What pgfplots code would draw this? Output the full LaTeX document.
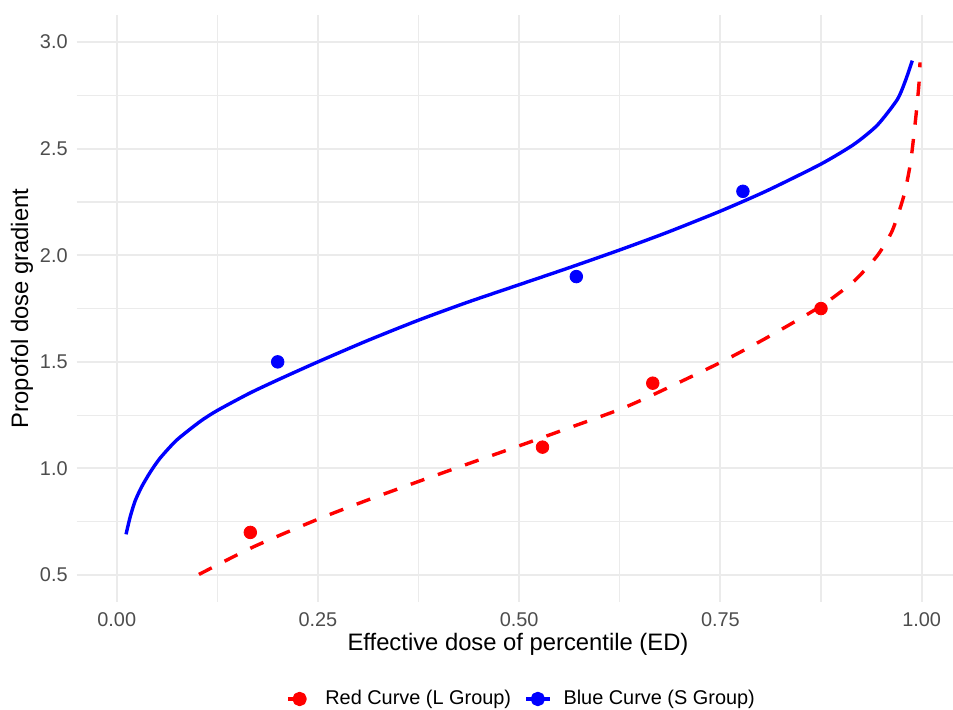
\documentclass[border=0pt]{standalone}
\usepackage{fontspec}
\setmainfont{Liberation Sans}
\usepackage{pgfplots}
\pgfplotsset{compat=1.18}
\definecolor{gridc}{HTML}{EBEBEB}
\definecolor{tickc}{HTML}{4D4D4D}
\definecolor{cred}{HTML}{FF0000}
\definecolor{cblue}{HTML}{0000FF}
\begin{document}
\begin{tikzpicture}
\useasboundingbox (0pt,0pt) rectangle (476.5pt,354.5pt);
\begin{axis}[
  at={(38.35pt,53.65pt)}, anchor=south west,
  scale only axis, width=438.15pt, height=293.35pt,
  xmin=-0.0497, xmax=1.039, ymin=0.375, ymax=3.127,
  axis line style={draw=none},
  major tick length=0pt, minor tick length=0pt,
  xtick={0,0.25,0.5,0.75,1},
  minor xtick={0.125,0.375,0.625,0.875},
  ytick={0.5,1,1.5,2,2.5,3},
  minor ytick={0.75,1.25,1.75,2.25,2.75},
  grid=both,
  major grid style={gridc, line width=1pt},
  minor grid style={gridc, line width=0.6pt},
  ticklabel style={font=\fontsize{9.95}{11}\selectfont, text=tickc, inner sep=0pt},
  xticklabel style={yshift=-5pt, /pgf/number format/.cd, fixed, fixed zerofill, precision=2, assume math mode=true},
  yticklabel style={xshift=-4.35pt, /pgf/number format/.cd, fixed, fixed zerofill, precision=1, assume math mode=true},
  xlabel={Effective dose of percentile (ED)},
  ylabel={Propofol dose gradient},
  label style={font=\fontsize{11.9}{14}\selectfont, inner sep=0pt},
  xlabel style={at={(axis description cs:0.5036,-0.0721)}, anchor=center},
  ylabel style={at={(axis description cs:-0.0624,0.5)}, anchor=center},
  legend columns=2,
  legend style={draw=none, fill=none, font=\fontsize{9.95}{12}\selectfont,
    at={(axis description cs:0.5065,-0.1658)}, anchor=center,
    nodes={inner sep=0pt},
    /tikz/every odd column/.append style={column sep=6.15pt},
    /tikz/every even column/.append style={column sep=6.65pt}},
  legend image code/.code={
    \draw (0pt,0pt) -- (11.7pt,0pt);
    \fill[solid] (5.85pt,0pt) circle (2.75pt);
  },
  clip=false,
]
% Red curve (L group)
\addplot[cred, line width=1.7pt, dash pattern=on 7.2pt off 7.2pt, smooth, tension=0.4, line join=round] coordinates {
(0.1022,0.503) (0.1697,0.632) (0.25,0.762) (0.3125,0.853) (0.375,0.939)
(0.4375,1.023) (0.5,1.106) (0.5625,1.191) (0.625,1.277) (0.6671,1.347)
(0.75,1.497) (0.808,1.614) (0.875,1.762) (0.9158,1.878) (0.9449,1.998)
(0.9635,2.115) (0.978,2.280) (0.9863,2.436) (0.9925,2.637) (0.9967,2.804)
(0.9980,2.905)
};
\addlegendentry{Red Curve (L Group)}
% Blue curve (S group)
\addplot[cblue, line width=1.7pt, smooth, tension=0.4, line join=round] coordinates {
(0.0116,0.691) (0.0166,0.771) (0.0228,0.847) (0.0310,0.914) (0.0414,0.981)
(0.0538,1.048) (0.0745,1.133) (0.1035,1.220) (0.125,1.272) (0.1656,1.354)
(0.2028,1.420) (0.25,1.500)
(0.3104,1.598) (0.3746,1.695) (0.4346,1.778) (0.5,1.862) (0.5593,1.938)
(0.625,2.025) (0.6837,2.107) (0.75,2.207) (0.808,2.303) (0.875,2.428)
(0.9158,2.520) (0.9449,2.610) (0.9697,2.730) (0.980,2.820) (0.9884,2.913)
};
\addlegendentry{Blue Curve (S Group)}
% Observed points
\addplot[only marks, mark=*, mark size=3.15pt, cred, forget plot] coordinates {
(0.166,0.70) (0.529,1.10) (0.666,1.40) (0.875,1.75)
};
\addplot[only marks, mark=*, mark size=3.15pt, cblue, forget plot] coordinates {
(0.200,1.50) (0.571,1.90) (0.778,2.30)
};
\end{axis}
\end{tikzpicture}
\end{document}
